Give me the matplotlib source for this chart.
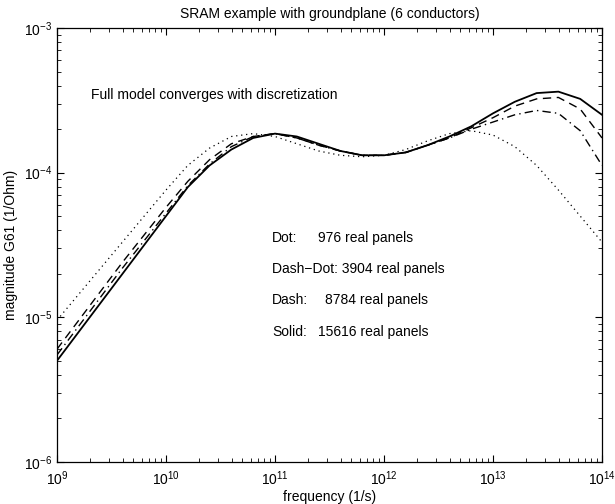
import numpy as np
import matplotlib
matplotlib.use("Agg")
import matplotlib.pyplot as plt
from matplotlib.ticker import LogLocator, NullFormatter

plt.rcParams['font.family'] = ['Liberation Sans', 'DejaVu Sans']
plt.rcParams['mathtext.fontset'] = 'custom'
plt.rcParams['mathtext.rm'] = 'Liberation Sans'

# frequency exponents (log10 of 1/s)
freq_exp = [9.0, 9.2, 9.4, 9.6, 9.8, 10.0, 10.2, 10.4, 10.6, 10.8, 11.0, 11.2, 11.4,
            11.6, 11.8, 12.0, 12.2, 12.4, 12.6, 12.8, 13.0, 13.2, 13.4, 13.6, 13.8, 14.0]

# log10 magnitude values
dot_exp = [-5.02, -4.84, -4.66, -4.48, -4.30, -4.12, -3.95, -3.83, -3.75, -3.73, -3.75,
           -3.80, -3.85, -3.88, -3.89, -3.88, -3.84, -3.78, -3.73, -3.71, -3.74, -3.82,
           -3.95, -4.12, -4.30, -4.48]
dashdot_exp = [-5.26, -5.06, -4.86, -4.66, -4.47, -4.28, -4.09, -3.94, -3.82, -3.75, -3.73,
               -3.76, -3.81, -3.85, -3.88, -3.88, -3.86, -3.81, -3.76, -3.70, -3.65, -3.60,
               -3.57, -3.59, -3.71, -3.95]
dash_exp = [-5.22, -5.02, -4.82, -4.62, -4.43, -4.24, -4.06, -3.91, -3.80, -3.75, -3.73,
            -3.76, -3.81, -3.85, -3.88, -3.88, -3.86, -3.81, -3.76, -3.69, -3.62, -3.54,
            -3.49, -3.48, -3.56, -3.76]
solid_exp = [-5.30, -5.10, -4.90, -4.70, -4.50, -4.30, -4.10, -3.95, -3.84, -3.76, -3.73,
             -3.75, -3.80, -3.85, -3.88, -3.88, -3.86, -3.81, -3.75, -3.68, -3.59, -3.51,
             -3.45, -3.44, -3.49, -3.60]

labels = [("Dot:", "976 real panels"),
          ("Dash\u2212Dot:", "3904 real panels"),
          ("Dash:", "8784 real panels"),
          ("Solid:", "15616 real panels")]

freq = np.power(10.0, freq_exp)

fig = plt.figure(figsize=(6.15, 5.04), dpi=100)
ax = fig.add_axes([57/615, 1 - 462/504, (602-57)/615, (462-28)/504])

ax.plot(freq, np.power(10.0, dot_exp), color='black', lw=0.9, linestyle=(0, (1, 3)))
ax.plot(freq, np.power(10.0, dashdot_exp), color='black', lw=1.0, linestyle=(0, (6, 3, 1, 3)))
ax.plot(freq, np.power(10.0, dash_exp), color='black', lw=1.0, linestyle=(0, (6, 4)))
ax.plot(freq, np.power(10.0, solid_exp), color='black', lw=1.3, linestyle='-')

ax.set_xscale('log')
ax.set_yscale('log')
ax.set_xlim(1e9, 1e14)
ax.set_ylim(1e-6, 1e-3)

ax.xaxis.set_major_locator(LogLocator(base=10, numticks=10))
ax.yaxis.set_major_locator(LogLocator(base=10, numticks=10))
ax.xaxis.set_minor_locator(LogLocator(base=10, subs=np.arange(2, 10), numticks=20))
ax.yaxis.set_minor_locator(LogLocator(base=10, subs=np.arange(2, 10), numticks=20))
ax.xaxis.set_minor_formatter(NullFormatter())
ax.yaxis.set_minor_formatter(NullFormatter())
ax.tick_params(which='both', direction='in', top=True, right=True, labelsize=10)
ax.tick_params(which='major', length=5, width=0.8)
ax.tick_params(which='minor', length=3, width=0.6)
ax.tick_params(axis='x', pad=5)
for s in ax.spines.values():
    s.set_linewidth(0.9)

ax.set_title("SRAM example with groundplane (6 conductors)", fontsize=10, pad=7)
ax.set_xlabel("frequency (1/s)", fontsize=10, labelpad=2)
ax.set_ylabel("magnitude G61 (1/Ohm)", fontsize=10, labelpad=4)

ax.text(0.062, 0.845, "Full model converges with discretization", transform=ax.transAxes,
        fontsize=10, va='center', ha='left')

ys = [0.515, 0.444, 0.373, 0.299]
xs2 = [0.479, 0.0, 0.492, 0.479]
for (a, b), y, x2 in zip(labels, ys, xs2):
    if a.startswith("Dash\u2212Dot"):
        ax.text(0.395, y, a + " " + b, transform=ax.transAxes, fontsize=10, va='center')
    else:
        ax.text(0.395, y, a, transform=ax.transAxes, fontsize=10, va='center')
        ax.text(x2, y, b, transform=ax.transAxes, fontsize=10, va='center')

fig.savefig("out.png", dpi=100)
